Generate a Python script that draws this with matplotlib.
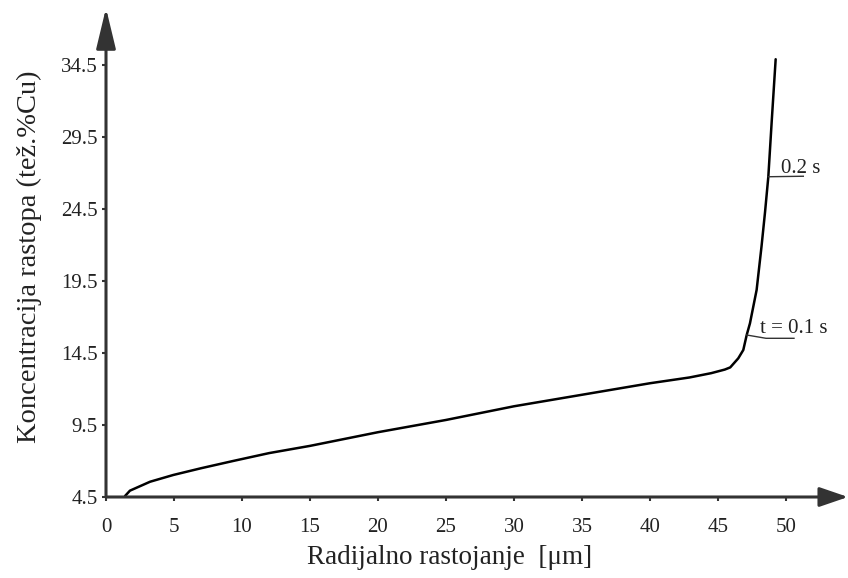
import numpy as np
import matplotlib
matplotlib.use("Agg")
import matplotlib.pyplot as plt
from matplotlib.lines import Line2D

plt.rcParams['font.family'] = ['Liberation Serif', 'DejaVu Serif']

# Data
radius = [1.4, 1.76, 3.24, 4.95, 7.0, 9.34, 12.0, 15.0, 20.0, 25.0, 30.0, 35.0, 40.0,
          42.9, 44.5, 45.5, 45.9, 46.49, 46.86, 47.11, 47.35, 47.84, 48.2, 48.46,
          48.7, 48.95, 49.24]
conc = [4.57, 4.94, 5.56, 6.03, 6.5, 7.0, 7.55, 8.05, 9.0, 9.85, 10.8, 11.6, 12.4,
        12.8, 13.1, 13.35, 13.5, 14.13, 14.71, 15.75, 16.56, 18.88, 21.9, 24.3,
        26.74, 30.6, 34.9]

xticks = [0, 5, 10, 15, 20, 25, 30, 35, 40, 45, 50]
yticks = [4.5, 9.5, 14.5, 19.5, 24.5, 29.5, 34.5]
ytick_labels = ['4.5', '9.5', '14.5', '19.5', '24.5', '29.5', '34.5']

ann_x = [47.11, 48.7]
ann_text = ['t = 0.1 s', '0.2 s']

AX_COL = '#333333'
TXT_COL = '#222222'
DPI = 100
fig = plt.figure(figsize=(8.48, 5.78), dpi=DPI)
ax = fig.add_axes([106/848, 81/578, 742/848, 489/578])
ax.set_xlim(0, 742/13.6)
ax.set_ylim(4.5, 4.5 + 489/14.4)

for s in ax.spines.values():
    s.set_visible(False)

# axes with arrows
ax.annotate('', xy=(1, 0), xytext=(0, 0), xycoords='axes fraction',
            arrowprops=dict(arrowstyle='-|>,head_length=1.75,head_width=0.6',
                            mutation_scale=10, lw=2.2, color=AX_COL,
                            shrinkA=0, shrinkB=0))
ax.annotate('', xy=(0, 1), xytext=(0, 0), xycoords='axes fraction',
            arrowprops=dict(arrowstyle='-|>,head_length=2.5,head_width=0.6',
                            mutation_scale=10, lw=2.2, color=AX_COL,
                            shrinkA=0, shrinkB=0))

ax.set_xticks(xticks)
ax.set_yticks(yticks)
ax.set_yticklabels(ytick_labels)
ax.tick_params(axis='both', direction='out', length=3, width=1.5, color=AX_COL,
               labelsize=15, labelcolor=TXT_COL)
ax.tick_params(axis='x', pad=12)
ax.tick_params(axis='y', pad=3)

ax.plot(radius, conc, color='black', lw=1.8, solid_capstyle='round',
        solid_joinstyle='round', clip_on=False)

ax.set_xlabel('Radijalno rastojanje  [μm]', fontsize=19.5, color=TXT_COL)
ax.set_ylabel('Koncentracija rastopa (tež.%Cu)', fontsize=20.5, color=TXT_COL)
ax.xaxis.set_label_coords((450 - 106) / 742, (497 - 545) / 489)
ax.yaxis.set_label_coords((42 - 106) / 742, (497 - 257) / 489)

# annotations (leader lines offset in pixels from curve points)
fig.canvas.draw()
leaders = [
    [(0, 0), (19.3, -3.3), (47.3, -3.3)],
    [(0, 0), (35, 0.5)],
]
text_off = [(13, 2), (12.4, 3.7)]
for xa, lead, toff, txt in zip(ann_x, leaders, text_off, ann_text):
    ya = np.interp(xa, radius, conc)
    P = ax.transData.transform((xa, ya))
    xs = [P[0] + d[0] for d in lead]
    ys = [P[1] + d[1] for d in lead]
    fig.add_artist(Line2D(xs, ys, transform=None, color=AX_COL, lw=1.0))
    ax.annotate(txt, xy=(xa, ya), xytext=toff, textcoords='offset pixels',
                fontsize=15, color=TXT_COL, ha='left', va='baseline')

fig.savefig('out.png', dpi=DPI)
